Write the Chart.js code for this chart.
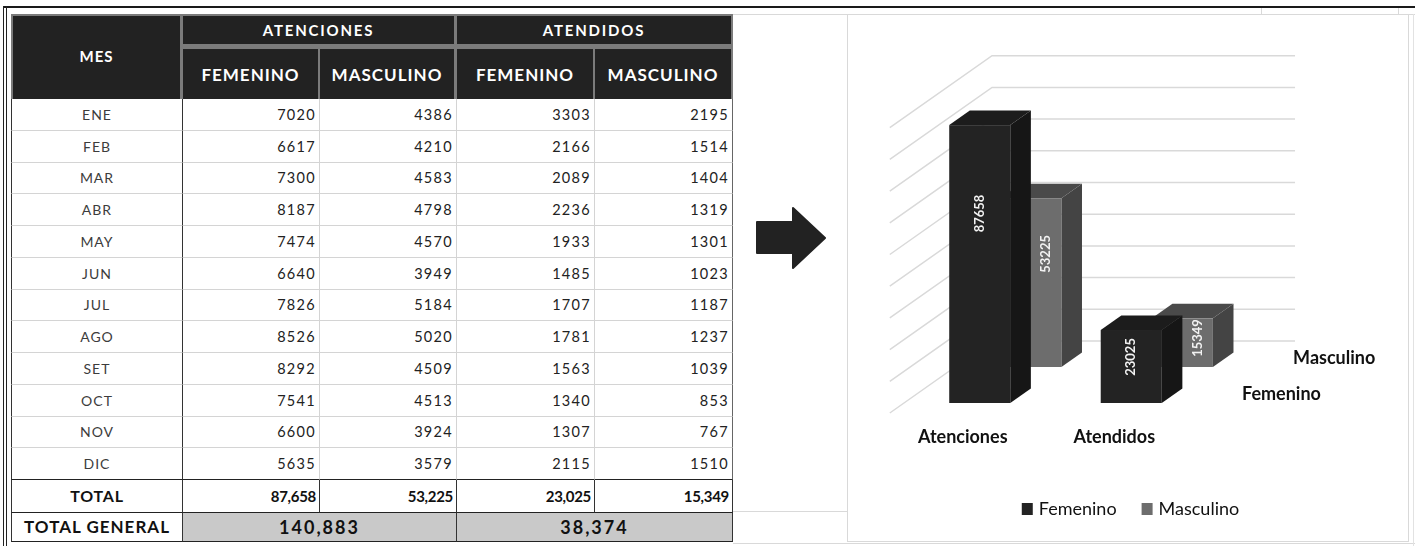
<!DOCTYPE html>
<html lang="es">
<head>
<meta charset="utf-8">
<title>Atenciones y atendidos por mes</title>
<script src="https://cdn.jsdelivr.net/npm/chart.js@4.4.1/dist/chart.umd.min.js"></script>
<style>
  html, body { margin: 0; padding: 0; background: #fff; }
  body { width: 1415px; height: 546px; position: relative; overflow: hidden; font-family: Lato, "Open Sans", sans-serif; }
  .ln { position: absolute; }
  #tabla { position: absolute; left: 11px; top: 14px; display: grid;
    grid-template-columns: 172px 137px 137px 138px 138px;
    grid-template-rows: 30px 5px 50px repeat(12, 31.75px) 32.7px 29px; }
  #tabla > div { box-sizing: border-box; display: flex; align-items: center; justify-content: center; white-space: nowrap; }
  .hd { background: #222; color: #fff; font-weight: bold; border-right: 2px solid #7b7b7b; }
  .mes { color: #3c3c3c; font-size: 14px; letter-spacing: 1px; border-left: 1.5px solid #333; border-right: 1.5px solid #333; }
  .num { justify-content: flex-end !important; padding-right: 3px; color: #222; font-size: 14.5px; letter-spacing: 1.3px; border-right: 1px solid #d4d4d4; }
  .tot { font-weight: bold; color: #111; border-right: 1.5px solid #333; border-bottom: 1.5px solid #222; }
  #chartBox { position: absolute; left: 847px; top: 14px; width: 562px; height: 528px; box-sizing: border-box; border: 1.5px solid #d9d9d9; background: #fff; }
  #grafico { position: absolute; left: 847px; top: 14px; }
</style>
</head>
<body>

<!-- frame and spreadsheet lines -->
<div class="ln" style="left:3px;top:6px;width:1412px;height:2px;background:#1a1a1a"></div>
<div class="ln" style="left:3px;top:6px;width:1px;height:540px;background:#222"></div>
<div class="ln" style="left:6px;top:6px;width:1px;height:540px;background:#222"></div>
<div class="ln" style="left:733px;top:14px;width:682px;height:1px;background:#d9d9d9"></div>
<div class="ln" style="left:1261px;top:8px;width:1px;height:6px;background:#d9d9d9"></div>
<div class="ln" style="left:1398px;top:8px;width:1px;height:6px;background:#d9d9d9"></div>
<div class="ln" style="left:733px;top:511px;width:114px;height:1px;background:#d9d9d9"></div>
<div class="ln" style="left:733px;top:543px;width:682px;height:1px;background:#d9d9d9"></div>
<div class="ln" style="left:1413px;top:14px;width:1px;height:532px;background:#e2e2e2"></div>

<div id="tabla"></div>

<svg class="ln" style="left:0;top:0" width="1415" height="546">
  <polygon points="757,222 793,222 793,208 825,238 793,268 793,253 757,253"
           fill="#222" stroke="#222" stroke-width="2" stroke-linejoin="round"/>
</svg>

<div id="chartBox"></div>
<canvas id="grafico" width="561" height="528"></canvas>

<script>
// ---- table data (monthly) ----
const months = ['ENE', 'FEB', 'MAR', 'ABR', 'MAY', 'JUN', 'JUL', 'AGO', 'SET', 'OCT', 'NOV', 'DIC'];
const atencionesFem = [7020, 6617, 7300, 8187, 7474, 6640, 7826, 8526, 8292, 7541, 6600, 5635];
const atencionesMas = [4386, 4210, 4583, 4798, 4570, 3949, 5184, 5020, 4509, 4513, 3924, 3579];
const atendidosFem = [3303, 2166, 2089, 2236, 1933, 1485, 1707, 1781, 1563, 1340, 1307, 2115];
const atendidosMas = [2195, 1514, 1404, 1319, 1301, 1023, 1187, 1237, 1039, 853, 767, 1510];

// ---- chart data ----
const categories = ['Atenciones', 'Atendidos'];
const femenino = [87658, 23025];
const masculino = [53225, 15349];
const gridValues = [0, 10000, 20000, 30000, 40000, 50000, 60000, 70000, 80000, 90000];

// ---------- table ----------
const tabla = document.getElementById('tabla');
function cell(text, col, row, cls, style) {
    const d = document.createElement('div');
    d.textContent = text;
    d.className = cls || '';
    d.style.gridColumn = col;
    d.style.gridRow = row;
    if (style) d.style.cssText += style;
    tabla.appendChild(d);
    return d;
}
const fmt = (n) => n.toLocaleString('en-US');
const sum = (arr) => arr.reduce((a, b) => a + b, 0);

const G = '#7b7b7b';
cell('MES', '1', '1 / span 3', 'hd', `font-size:15px;letter-spacing:1px;border-left:2px solid ${G};border-top:2px solid ${G};border-right:3px solid ${G};padding-bottom:4px`);
cell('ATENCIONES', '2 / span 2', '1', 'hd', `font-size:15px;letter-spacing:1.8px;border-top:2px solid ${G};border-right:3px solid ${G}`);
cell('ATENDIDOS', '4 / span 2', '1', 'hd', `font-size:15px;letter-spacing:1.8px;border-top:2px solid ${G}`);
cell('', '2 / span 4', '2', '', `background:${G}`);
['FEMENINO', 'MASCULINO', 'FEMENINO', 'MASCULINO'].forEach((t, i) => {
    cell(t, String(i + 2), '3', 'hd', `font-size:17px;letter-spacing:1px;${i === 1 ? 'border-right:3px solid ' + G : ''}`);
});

const cols = [atencionesFem, atencionesMas, atendidosFem, atendidosMas];
months.forEach((m, i) => {
    const row = String(4 + i);
    const last = i === months.length - 1;
    const bb = last ? 'border-bottom:1.5px solid #222' : 'border-bottom:1px solid #d4d4d4';
    cell(m, '1', row, 'mes', bb);
    cols.forEach((arr, c) => {
        cell(arr[i], String(c + 2), row, 'num', bb + (c === 3 ? ';border-right:1px solid #666' : ''));
    });
});

const totRow = String(4 + months.length);
cell('TOTAL', '1', totRow, 'tot', 'font-size:16px;letter-spacing:0.8px;border-left:1.5px solid #333');
cols.forEach((arr, c) => {
    cell(fmt(sum(arr)), String(c + 2), totRow, 'tot', 'justify-content:flex-end;padding-right:3px;font-size:15px;letter-spacing:-0.3px');
});
const genRow = String(5 + months.length);
cell('TOTAL GENERAL', '1', genRow, 'tot', 'font-size:17px;letter-spacing:1px;border-left:1.5px solid #333');
cell(fmt(sum(atencionesFem) + sum(atencionesMas)), '2 / span 2', genRow, 'tot', 'background:#c9c9c9;font-size:18px;letter-spacing:2px');
cell(fmt(sum(atendidosFem) + sum(atendidosMas)), '4 / span 2', genRow, 'tot', 'background:#c9c9c9;font-size:18px;letter-spacing:2px');

// ---------- pseudo 3D column chart ----------
const DIR = 1.42;          // x shift per pixel of depth
const BAR_DEPTH = 14.5;
const ROW_GAP = 36;        // Masculino row sits behind Femenino
const WALL_DEPTH = 62;
const FLOOR_FRONT = 10;

const shades = [
    { face: '#232323', side: '#161616', top: '#1c1c1c' },
    { face: '#6d6d6d', side: '#444444', top: '#4a4a4a' }
];

function drawBox(ctx, g, s) {
    const dx = BAR_DEPTH * DIR, dy = -BAR_DEPTH;
    ctx.fillStyle = s.side;
    ctx.beginPath();
    ctx.moveTo(g.x1, g.top); ctx.lineTo(g.x1 + dx, g.top + dy);
    ctx.lineTo(g.x1 + dx, g.bottom + dy); ctx.lineTo(g.x1, g.bottom);
    ctx.closePath(); ctx.fill();
    ctx.fillStyle = s.top;
    ctx.beginPath();
    ctx.moveTo(g.x0, g.top); ctx.lineTo(g.x0 + dx, g.top + dy);
    ctx.lineTo(g.x1 + dx, g.top + dy); ctx.lineTo(g.x1, g.top);
    ctx.closePath(); ctx.fill();
    ctx.fillStyle = s.face;
    ctx.fillRect(g.x0, g.top, g.x1 - g.x0, g.bottom - g.top);
}

const fake3d = {
    id: 'fake3d',
    beforeDatasetsDraw(chart) {
        const { ctx, chartArea: a, scales: { y } } = chart;
        ctx.save();

        // back wall + side wall gridlines
        ctx.strokeStyle = '#d9d9d9';
        ctx.lineWidth = 1.5;
        gridValues.forEach((v) => {
            const py = y.getPixelForValue(v);
            ctx.beginPath();
            ctx.moveTo(a.left - FLOOR_FRONT * DIR, py + FLOOR_FRONT);
            ctx.lineTo(a.left + WALL_DEPTH * DIR, py - WALL_DEPTH);
            ctx.lineTo(a.right + WALL_DEPTH * DIR, py - WALL_DEPTH);
            ctx.stroke();
        });

        // bar geometry from the library's elements
        const geo = chart.data.datasets.map((ds, d) =>
            chart.getDatasetMeta(d).data.map((bar) => {
                const p = bar.getProps(['x', 'y', 'base', 'width'], true);
                const sx = d * ROW_GAP * DIR, sy = -d * ROW_GAP;
                return { x0: p.x - p.width / 2 + sx, x1: p.x + p.width / 2 + sx, top: p.y + sy, bottom: p.base + sy };
            })
        );
        for (let d = geo.length - 1; d >= 0; d--) {
            geo[d].forEach((g) => drawBox(ctx, g, shades[d]));
        }

        // value labels, rotated
        ctx.font = 'bold 13px Lato';
        ctx.textAlign = 'center';
        ctx.textBaseline = 'middle';
        ctx.fillStyle = '#f2f2f2';
        geo.forEach((row, d) => row.forEach((g, i) => {
            let cx = (g.x0 + g.x1) / 2;
            if (d > 0) cx = (geo[d - 1][i].x1 + BAR_DEPTH * DIR + g.x1) / 2;
            const h = g.bottom - g.top;
            const cy = g.top + 0.3 * h + 5;
            ctx.save();
            ctx.translate(cx, cy);
            ctx.rotate(-Math.PI / 2);
            ctx.fillText(String(chart.data.datasets[d].data[i]), 0, 0);
            ctx.restore();
        }));

        // series axis (depth) labels
        ctx.font = 'bold 18px Lato';
        ctx.textAlign = 'left';
        ctx.fillStyle = '#111';
        chart.data.datasets.forEach((ds, d) => {
            ctx.fillText(ds.label, a.right + d * ROW_GAP * DIR + 35, a.bottom - d * ROW_GAP - 9);
        });

        // legend
        ctx.font = '18px Lato';
        const items = chart.data.datasets.map((ds) => ({
            text: ds.label, color: ds.backgroundColor, w: 17 + ctx.measureText(ds.label).width
        }));
        const total = items.reduce((s, it) => s + it.w, 0) + 25 * (items.length - 1);
        let lx = chart.width / 2 - total / 2 + 3;
        const ly = chart.height - 33;
        items.forEach((it) => {
            ctx.fillStyle = it.color;
            ctx.fillRect(lx, ly - 6, 11, 12);
            ctx.fillStyle = '#111';
            ctx.fillText(it.text, lx + 17, ly);
            lx += it.w + 25;
        });

        ctx.restore();
        return false;
    }
};

new Chart(document.getElementById('grafico'), {
    type: 'bar',
    data: {
        labels: categories,
        datasets: [
            { label: 'Femenino', data: femenino, backgroundColor: '#232323' },
            { label: 'Masculino', data: masculino, backgroundColor: '#6d6d6d' }
        ]
    },
    options: {
        responsive: false,
        animation: false,
        layout: { padding: { left: 57, top: 103.7, right: 201, bottom: 71.4 } },
        datasets: { bar: { grouped: false, categoryPercentage: 1, barPercentage: 0.403 } },
        scales: {
            x: {
                grid: { display: false, drawTicks: false },
                border: { display: false },
                ticks: { font: { family: 'Lato', size: 18, weight: 'bold' }, color: '#111', padding: 23, labelOffset: -17 }
            },
            y: { display: false, min: 0, max: 90000 }
        },
        plugins: { legend: { display: false }, tooltip: { enabled: false } }
    },
    plugins: [fake3d]
});
</script>
</body>
</html>
